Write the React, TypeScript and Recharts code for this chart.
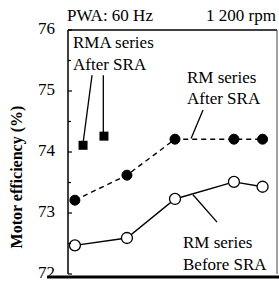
import React from "react";
import {
  ComposedChart,
  Line,
  Scatter,
  XAxis,
  YAxis,
  ReferenceLine,
  Customized,
} from "recharts";

// Horizontal positions of the samples (arbitrary units, 0..100 across the frame)
const rmPositions = [3.3, 28.2, 51.2, 79.4, 93.1];
const rmBeforeSRA = [72.47, 72.59, 73.23, 73.51, 73.43];
const rmAfterSRA = [73.21, 73.62, 74.21, 74.21, 74.21];
const rmaPositions = [7.2, 17.2];
const rmaAfterSRA = [74.11, 74.26];
const yTicks = [72, 72.5, 73, 73.5, 74, 74.5, 75, 75.5, 76];
const yLabels = ["72", "73", "74", "75", "76"];

const rmData = rmPositions.map((x, i) => ({
  x,
  before: rmBeforeSRA[i],
  after: rmAfterSRA[i],
}));
const rmaData = rmaPositions.map((x, i) => ({ x, rma: rmaAfterSRA[i] }));

const FONT = '"Liberation Serif", "Times New Roman", serif';

const YTick = (props: any) => {
  const { x, y, payload } = props;
  const v = payload.value;
  const major = Number.isInteger(v);
  return (
    <g>
      <line x1={x} y1={y} x2={x + (major ? 4 : 3)} y2={y} stroke="#000" strokeWidth={1.2} />
      {major && yLabels.includes(String(v)) ? (
        <text
          x={x - 13}
          y={y}
          dy={4}
          textAnchor="end"
          fontFamily={FONT}
          fontSize={17}
          fill="#000"
        >
          {String(v)}
        </text>
      ) : null}
    </g>
  );
};

const OpenDot = (props: any) => {
  const { cx, cy } = props;
  if (cx == null || cy == null) return null;
  return <circle cx={cx} cy={cy} r={5.5} fill="#fff" stroke="#000" strokeWidth={1.3} />;
};

const FilledDot = (props: any) => {
  const { cx, cy } = props;
  if (cx == null || cy == null) return null;
  return <circle cx={cx} cy={cy} r={5} fill="#000" stroke="#000" />;
};

const Square = (props: any) => {
  const { cx, cy } = props;
  if (cx == null || cy == null) return null;
  return <rect x={cx - 4.5} y={cy - 4.5} width={9} height={9} fill="#000" />;
};

const Texts = () => (
  <g fontFamily={FONT} fontSize={17} fill="#000">
    <text x={67} y={21}>PWA: 60 Hz</text>
    <text x={276} y={21} textAnchor="end">1 200 rpm</text>
    <text x={73} y={48}>RMA series</text>
    <text x={73} y={70}>After SRA</text>
    <text x={187} y={83}>RM series</text>
    <text x={187} y={104}>After SRA</text>
    <text x={183} y={248}>RM series</text>
    <text x={183} y={270}>Before SRA</text>
    <text
      x={0}
      y={0}
      transform="translate(22,177) rotate(-90)"
      textAnchor="middle"
      fontWeight="bold"
      fontSize={16}
    >
      Motor efficiency (%)
    </text>
  </g>
);

export default function App() {
  return (
    <div style={{ position: "absolute", left: 0, top: 0, width: 279, height: 281, background: "#fff" }}>
      <ComposedChart
        width={279}
        height={281}
        data={rmData}
        margin={{ top: 30, right: 2, bottom: 7, left: 0 }}
      >
        <XAxis type="number" dataKey="x" domain={[0, 100]} hide />
        <YAxis
          type="number"
          domain={[72, 76]}
          ticks={yTicks}
          interval={0}
          width={68}
          tickSize={0}
          tickMargin={0}
          tickLine={false}
          axisLine={{ stroke: "#000", strokeWidth: 1.5 }}
          tick={<YTick />}
          allowDataOverflow
        />
        <ReferenceLine y={76} stroke="#000" strokeWidth={1.5} ifOverflow="visible" />
        <ReferenceLine x={100} stroke="#444" strokeWidth={1} ifOverflow="visible" />
        <ReferenceLine
          segment={[{ x: -10, y: 71.95 }, { x: 101, y: 71.95 }]}
          stroke="#000"
          strokeWidth={3}
          ifOverflow="visible"
        />
        {/* leader lines */}
        <ReferenceLine segment={[{ x: 11.5, y: 75.26 }, { x: 7.3, y: 74.17 }]} stroke="#000" strokeWidth={1.3} ifOverflow="visible" />
        <ReferenceLine segment={[{ x: 16.9, y: 75.26 }, { x: 16.9, y: 74.3 }]} stroke="#000" strokeWidth={1.3} ifOverflow="visible" />
        <ReferenceLine segment={[{ x: 64.6, y: 74.69 }, { x: 58.9, y: 74.22 }]} stroke="#000" strokeWidth={1.3} ifOverflow="visible" />
        <ReferenceLine segment={[{ x: 59.8, y: 73.3 }, { x: 71.3, y: 72.85 }]} stroke="#000" strokeWidth={1.3} ifOverflow="visible" />
        <Line
          dataKey="after"
          stroke="#000"
          strokeWidth={1.4}
          strokeDasharray="5 4"
          dot={<FilledDot />}
          activeDot={false}
          isAnimationActive={false}
        />
        <Line
          dataKey="before"
          stroke="#000"
          strokeWidth={1.4}
          dot={<OpenDot />}
          activeDot={false}
          isAnimationActive={false}
        />
        <Scatter data={rmaData} dataKey="rma" shape={<Square />} isAnimationActive={false} />
        <Customized component={Texts} />
      </ComposedChart>
    </div>
  );
}
